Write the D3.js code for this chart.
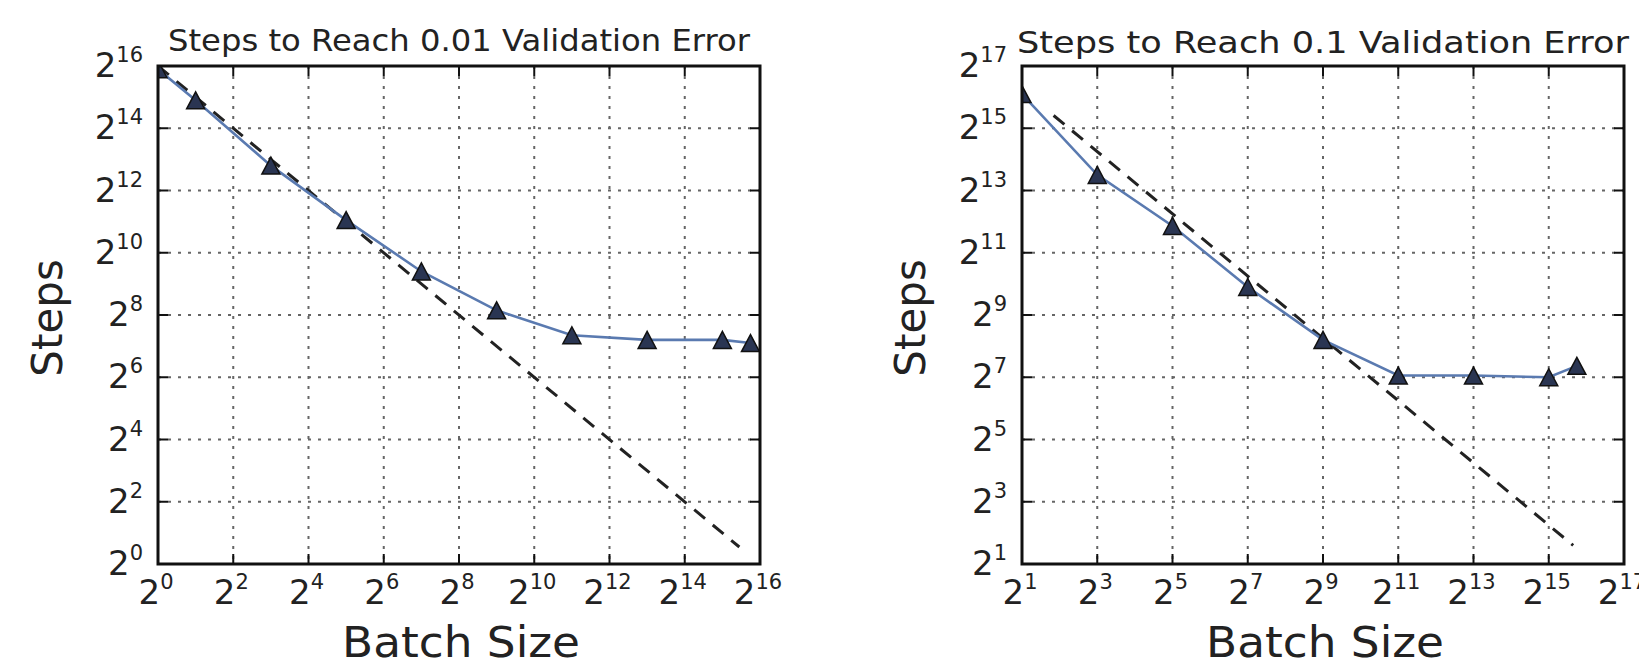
<!DOCTYPE html>
<html>
<head>
<meta charset="utf-8">
<script src="https://cdn.jsdelivr.net/npm/d3@7"></script>
<style>
  body { margin: 0; background: #fff; }
  text { font-family: "DejaVu Sans", sans-serif; fill: #222; }
</style>
</head>
<body>
<svg id="chart" width="1639" height="667" viewBox="0 0 1639 667"></svg>
<script>
// ---- data ----
// panel 1: steps to reach 0.01 validation error
const batchA = [1, 2, 8, 32, 128, 512, 2048, 8192, 32768, 55000]
const stepsA = [61000, 30500, 7130, 2120, 675, 284, 163, 147, 147, 137]
const idealA = [[1, 65536], [44800, 1.46]]
const ticksA = [0, 2, 4, 6, 8, 10, 12, 14, 16]

// panel 2: steps to reach 0.1 validation error
const batchB = [2, 8, 32, 128, 512, 2048, 8192, 32768, 55000]
const stepsB = [70200, 11600, 3720, 955, 294, 133, 133, 128, 165]
const idealB = [[3.58, 43550], [51400, 3.03]]
const ticksB = [1, 3, 5, 7, 9, 11, 13, 15, 17]

const titleA = "Steps to Reach 0.01 Validation Error"
const titleB = "Steps to Reach 0.1 Validation Error"

const svg = d3.select("#chart")
svg.append("rect").attr("width", 1639).attr("height", 667).attr("fill", "#fff")

function panel(opt)
{
    const g = svg.append("g")
    const x = d3.scaleLog().base(2)
        .domain([2 ** opt.ticks[0], 2 ** opt.ticks[opt.ticks.length - 1]])
        .range([opt.left, opt.right])
    const y = d3.scaleLog().base(2)
        .domain([2 ** opt.ticks[0], 2 ** opt.ticks[opt.ticks.length - 1]])
        .range([opt.bottom, opt.top])

    const clipId = "clip" + opt.id
    svg.append("clipPath").attr("id", clipId)
        .append("rect")
        .attr("x", opt.left).attr("y", opt.top)
        .attr("width", opt.right - opt.left).attr("height", opt.bottom - opt.top)

    //dotted grid
    const grid = g.append("g")
        .attr("stroke", "#333").attr("stroke-width", 2)
        .attr("stroke-dasharray", "3 7").attr("opacity", 0.75)
    grid.selectAll(".gx").data(opt.ticks.slice(1, -1)).enter()
        .append("line")
        .attr("x1", d => x(2 ** d)).attr("x2", d => x(2 ** d))
        .attr("y1", opt.top).attr("y2", opt.bottom)
    grid.selectAll(".gy").data(opt.ticks.slice(1, -1)).enter()
        .append("line")
        .attr("y1", d => y(2 ** d)).attr("y2", d => y(2 ** d))
        .attr("x1", opt.left).attr("x2", opt.right)

    const plot = g.append("g").attr("clip-path", `url(#${clipId})`)

    //ideal scaling (dashed)
    plot.append("path")
        .datum(opt.ideal)
        .attr("d", d3.line().x(d => x(d[0])).y(d => y(d[1])))
        .attr("fill", "none")
        .attr("stroke", "#222")
        .attr("stroke-width", 3)
        .attr("stroke-dasharray", "14 10")

    const pts = opt.batch.map((b, i) => [b, opt.steps[i]])
    plot.append("path")
        .datum(pts)
        .attr("d", d3.line().x(d => x(d[0])).y(d => y(d[1])))
        .attr("fill", "none")
        .attr("stroke", "#5a7ab0")
        .attr("stroke-width", 2.6)

    plot.selectAll(".mk").data(pts).enter()
        .append("path")
        .attr("d", "M0,-8.5L9,8.5L-9,8.5Z")
        .attr("transform", d => `translate(${x(d[0])},${y(d[1])})`)
        .attr("fill", "#2a3552")
        .attr("stroke", "#111")
        .attr("stroke-width", 1.5)

    //ticks on all four sides, pointing in
    const tk = g.append("g").attr("stroke", "#111").attr("stroke-width", 2)
    opt.ticks.forEach(t => {
        const xx = x(2 ** t), yy = y(2 ** t)
        tk.append("line").attr("x1", xx).attr("x2", xx).attr("y1", opt.bottom).attr("y2", opt.bottom - 10)
        tk.append("line").attr("x1", xx).attr("x2", xx).attr("y1", opt.top).attr("y2", opt.top + 10)
        tk.append("line").attr("y1", yy).attr("y2", yy).attr("x1", opt.left).attr("x2", opt.left + 10)
        tk.append("line").attr("y1", yy).attr("y2", yy).attr("x1", opt.right).attr("x2", opt.right - 10)
    })

    g.append("rect")
        .attr("x", opt.left).attr("y", opt.top)
        .attr("width", opt.right - opt.left).attr("height", opt.bottom - opt.top)
        .attr("fill", "none").attr("stroke", "#111").attr("stroke-width", 3)

    //tick labels  2^n
    function powLabel(sel) {
        sel.append("tspan").attr("font-size", 34).text("2")
        sel.append("tspan").attr("font-size", 21).attr("dy", -15).text(d => d)
    }
    g.selectAll(".xl").data(opt.ticks).enter()
        .append("text")
        .attr("x", d => x(2 ** d) - 2)
        .attr("y", 604)
        .attr("text-anchor", "middle")
        .call(powLabel)
    g.selectAll(".yl").data(opt.ticks).enter()
        .append("text")
        .attr("x", opt.left - 15)
        .attr("y", d => y(2 ** d) + 11)
        .attr("text-anchor", "end")
        .call(powLabel)

    g.append("text")
        .attr("x", (opt.left + opt.right) / 2)
        .attr("y", opt.titleY)
        .attr("text-anchor", "middle")
        .attr("font-size", opt.titleSize)
        .attr("textLength", opt.titleLen)
        .attr("lengthAdjust", "spacingAndGlyphs")
        .text(opt.title)

    g.append("text")
        .attr("x", (opt.left + opt.right) / 2 + 2)
        .attr("y", 657)
        .attr("text-anchor", "middle")
        .attr("font-size", 42)
        .attr("textLength", 238)
        .attr("lengthAdjust", "spacingAndGlyphs")
        .text("Batch Size")

    g.append("text")
        .attr("transform", `translate(${opt.ylabX},${(opt.top + opt.bottom) / 2 + 3}) rotate(-90)`)
        .attr("text-anchor", "middle")
        .attr("font-size", 42)
        .text("Steps")
}

panel({
    id: "A", left: 158, right: 760, top: 66, bottom: 564,
    batch: batchA, steps: stepsA, ideal: idealA, ticks: ticksA,
    title: titleA, titleY: 51, titleSize: 30, titleLen: 582, ylabX: 62
})
panel({
    id: "B", left: 1022, right: 1624, top: 66, bottom: 564,
    batch: batchB, steps: stepsB, ideal: idealB, ticks: ticksB,
    title: titleB, titleY: 53, titleSize: 31, titleLen: 612, ylabX: 925
})
</script>
</body>
</html>
